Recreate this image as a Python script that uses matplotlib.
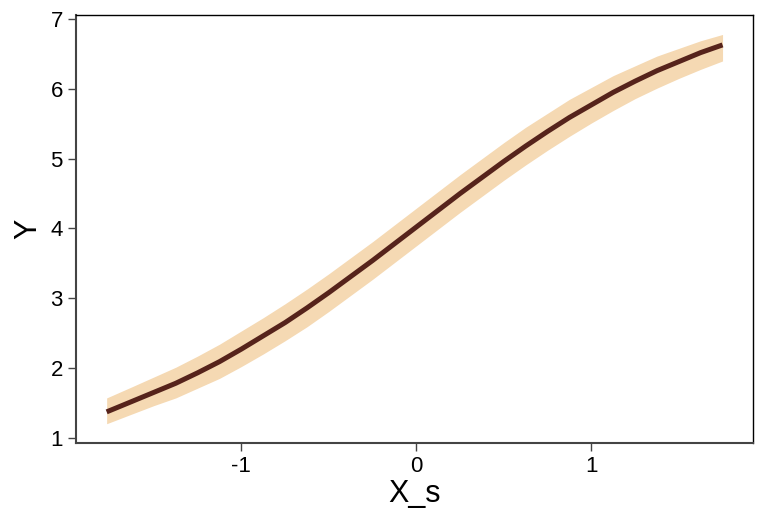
import matplotlib
matplotlib.use("Agg")
import matplotlib.pyplot as plt

plt.rcParams['font.family'] = ['Liberation Sans', 'DejaVu Sans']

# values
x_s = [-1.77, -1.625, -1.5, -1.375, -1.25, -1.125, -1.0, -0.875, -0.75, -0.625,
       -0.5, -0.375, -0.25, -0.125, 0.0, 0.125, 0.25, 0.375, 0.5, 0.625,
       0.75, 0.875, 1.0, 1.125, 1.25, 1.375, 1.5, 1.625, 1.75]
y_mid = [1.37, 1.52, 1.65, 1.78, 1.93, 2.09, 2.27, 2.46, 2.65, 2.86,
         3.08, 3.31, 3.54, 3.78, 4.02, 4.26, 4.50, 4.73, 4.96, 5.18,
         5.39, 5.59, 5.77, 5.95, 6.11, 6.26, 6.39, 6.52, 6.63]
y_low = [1.20, 1.34, 1.46, 1.57, 1.71, 1.85, 2.02, 2.20, 2.39, 2.59,
         2.81, 3.04, 3.27, 3.51, 3.75, 3.99, 4.23, 4.46, 4.69, 4.91,
         5.12, 5.32, 5.51, 5.69, 5.86, 6.01, 6.15, 6.28, 6.40]
y_high = [1.57, 1.73, 1.87, 2.01, 2.17, 2.34, 2.53, 2.72, 2.92, 3.13,
          3.35, 3.58, 3.81, 4.05, 4.29, 4.53, 4.77, 5.00, 5.23, 5.45,
          5.65, 5.85, 6.02, 6.19, 6.33, 6.47, 6.58, 6.69, 6.78]

fig = plt.figure(figsize=(7.68, 5.28), dpi=100)
ax = fig.add_axes([0.099, 0.161, 0.881, 0.811])

ax.fill_between(x_s, y_low, y_high, color='#F5D9B3', linewidth=0)
ax.plot(x_s, y_mid, color='#56231B', linewidth=3.6, solid_capstyle='butt',
        solid_joinstyle='round')

ax.set_xlim(-1.945, 1.922)
ax.set_ylim(0.924, 7.062)
ax.set_xticks([-1, 0, 1])
ax.set_xticklabels(['-1', '0', '1'])
ax.set_yticks([1, 2, 3, 4, 5, 6, 7])

for side in ['left', 'bottom']:
    ax.spines[side].set_color('#444444')
    ax.spines[side].set_linewidth(1.5)
for side in ['top', 'right']:
    ax.spines[side].set_color('black')
    ax.spines[side].set_linewidth(1.0)

ax.tick_params(axis='both', direction='out', length=5.5, width=1.0,
               color='#444444', labelsize=16, pad=4)
ax.set_xlabel('X_s', fontsize=22, labelpad=1)
ax.set_ylabel('Y', fontsize=22, labelpad=5)

fig.savefig('out.png', dpi=100)
